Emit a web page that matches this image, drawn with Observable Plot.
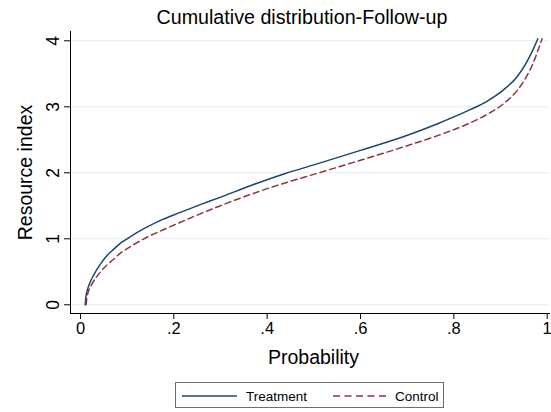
<!DOCTYPE html>
<html>
<head>
<meta charset="utf-8">
<script src="https://cdn.jsdelivr.net/npm/d3@7"></script>
<script src="https://cdn.jsdelivr.net/npm/@observablehq/plot@0.6"></script>
<style>
  html, body { margin: 0; padding: 0; background: #fff; overflow: hidden; }
  #wrap { position: relative; width: 551px; height: 412px; font-family: "Liberation Sans", Arial, Helvetica, sans-serif; }
  #title { position: absolute; left: 152px; width: 300px; top: 8px; text-align: center; white-space: nowrap; font-size: 19.7px; line-height: 19px; color: #000; }
  #chart { position: absolute; left: 0; top: 0; }
  #legend { position: absolute; left: 175px; top: 382px; width: 269px; height: 26px; border: 1px solid #6e6e6e; box-sizing: border-box; }
  #legend .item { position: absolute; top: 0; height: 26px; display: flex; align-items: center; font-size: 13.5px; color: #000; }
  #legend svg { display: block; }
</style>
</head>
<body>
<div id="wrap">
  <div id="chart"></div>
  <div id="title"></div>
  <div id="legend"></div>
</div>
<script>
// ---- data ----
const titleText = "Cumulative distribution-Follow-up";
const xLabel = "Probability";
const yLabel = "Resource index";
const seriesNames = ["Treatment", "Control"];
const seriesColors = ["#1a476f", "#90353b"];

const treatmentP = [0.010, 0.012, 0.015, 0.020, 0.029, 0.043, 0.056, 0.071, 0.085, 0.100, 0.120, 0.143, 0.175, 0.214, 0.254, 0.296, 0.370, 0.439, 0.500, 0.600, 0.693, 0.764, 0.836, 0.870, 0.907, 0.936, 0.957, 0.970, 0.980];
const treatmentV = [0.00, 0.14, 0.23, 0.33, 0.46, 0.62, 0.74, 0.84, 0.93, 1.00, 1.09, 1.18, 1.29, 1.40, 1.51, 1.62, 1.82, 1.99, 2.12, 2.34, 2.55, 2.74, 2.96, 3.08, 3.26, 3.46, 3.69, 3.87, 4.03];

const controlP = [0.012, 0.014, 0.017, 0.025, 0.034, 0.043, 0.056, 0.071, 0.085, 0.100, 0.136, 0.175, 0.214, 0.254, 0.296, 0.400, 0.511, 0.600, 0.700, 0.764, 0.836, 0.870, 0.907, 0.936, 0.955, 0.968, 0.978, 0.989];
const controlV = [0.00, 0.12, 0.20, 0.32, 0.42, 0.50, 0.60, 0.69, 0.78, 0.85, 1.00, 1.13, 1.25, 1.37, 1.49, 1.76, 2.00, 2.19, 2.41, 2.56, 2.76, 2.88, 3.05, 3.25, 3.45, 3.63, 3.81, 4.03];

const xTicks = [0, 0.2, 0.4, 0.6, 0.8, 1];
const xTickLabels = ["0", ".2", ".4", ".6", ".8", "1"];
const yTicks = [0, 1, 2, 3, 4];
const yTickLabels = ["0", "1", "2", "3", "4"];

// ---- build tables ----
const treatment = treatmentP.map((p, i) => ({p, v: treatmentV[i]}));
const control = controlP.map((p, i) => ({p, v: controlV[i]}));

const font = "'Liberation Sans', Arial, Helvetica, sans-serif";
const xFmt = (d) => xTickLabels[xTicks.indexOf(d)];
const yFmt = (d) => yTickLabels[yTicks.indexOf(d)];

const chart = Plot.plot({
  width: 551,
  height: 370,
  marginTop: 31,
  marginBottom: 57,
  marginLeft: 70,
  marginRight: 1,
  style: {fontFamily: font, color: "#000", background: "transparent"},
  x: {domain: [-0.0214, 1.0071]},
  y: {domain: [-0.132, 4.141]},
  marks: [
    Plot.gridY(yTicks, {stroke: "#e3edf0", strokeOpacity: 1, strokeWidth: 1}),
    Plot.axisY({ticks: yTicks, tickFormat: yFmt, tickSize: 6, tickPadding: 11, tickRotate: -90,
      textAnchor: "middle", lineAnchor: "middle", fontSize: 17.5, label: null, stroke: "#000"}),
    Plot.axisX({ticks: xTicks, tickFormat: xFmt, tickSize: 6, tickPadding: 3, fontSize: 16.5, label: null, stroke: "#000"}),
    Plot.ruleX([-0.0214], {stroke: "#000", strokeWidth: 1}),
    Plot.ruleY([-0.132], {stroke: "#000", strokeWidth: 1}),
    Plot.line(treatment, {x: "p", y: "v", stroke: seriesColors[0], strokeWidth: 1.5, curve: "monotone-x"}),
    Plot.line(control, {x: "p", y: "v", stroke: seriesColors[1], strokeWidth: 1.5, strokeDasharray: "6,4", curve: "monotone-x"}),
    Plot.text([xLabel], {frameAnchor: "bottom", dx: 3, dy: 44, text: (d) => d, fontSize: 19.5, fill: "#000",
      textAnchor: "middle", lineAnchor: "middle"}),
    Plot.text([yLabel], {frameAnchor: "left", dx: -45, rotate: -90, text: (d) => d, fontSize: 19.5, fill: "#000",
      textAnchor: "middle", lineAnchor: "middle"})
  ]
});
document.getElementById("chart").appendChild(chart);
document.getElementById("title").textContent = titleText;

// ---- legend ----
const legend = document.getElementById("legend");
const legendItems = [
  {name: seriesNames[0], color: seriesColors[0], dash: null, left: 6, lineW: 55},
  {name: seriesNames[1], color: seriesColors[1], dash: "7,4.5", left: 157, lineW: 57}
];
for (const it of legendItems) {
  const div = document.createElement("div");
  div.className = "item";
  div.style.left = it.left + "px";
  const svg = d3.create("svg").attr("width", it.lineW).attr("height", 10);
  svg.append("line").attr("x1", 0).attr("x2", it.lineW).attr("y1", 5).attr("y2", 5)
    .attr("stroke", it.color).attr("stroke-width", 1.3)
    .attr("stroke-dasharray", it.dash);
  div.appendChild(svg.node());
  const span = document.createElement("span");
  span.textContent = it.name;
  span.style.marginLeft = (it.dash ? 5 : 9) + "px";
  div.appendChild(span);
  legend.appendChild(div);
}
</script>
</body>
</html>
